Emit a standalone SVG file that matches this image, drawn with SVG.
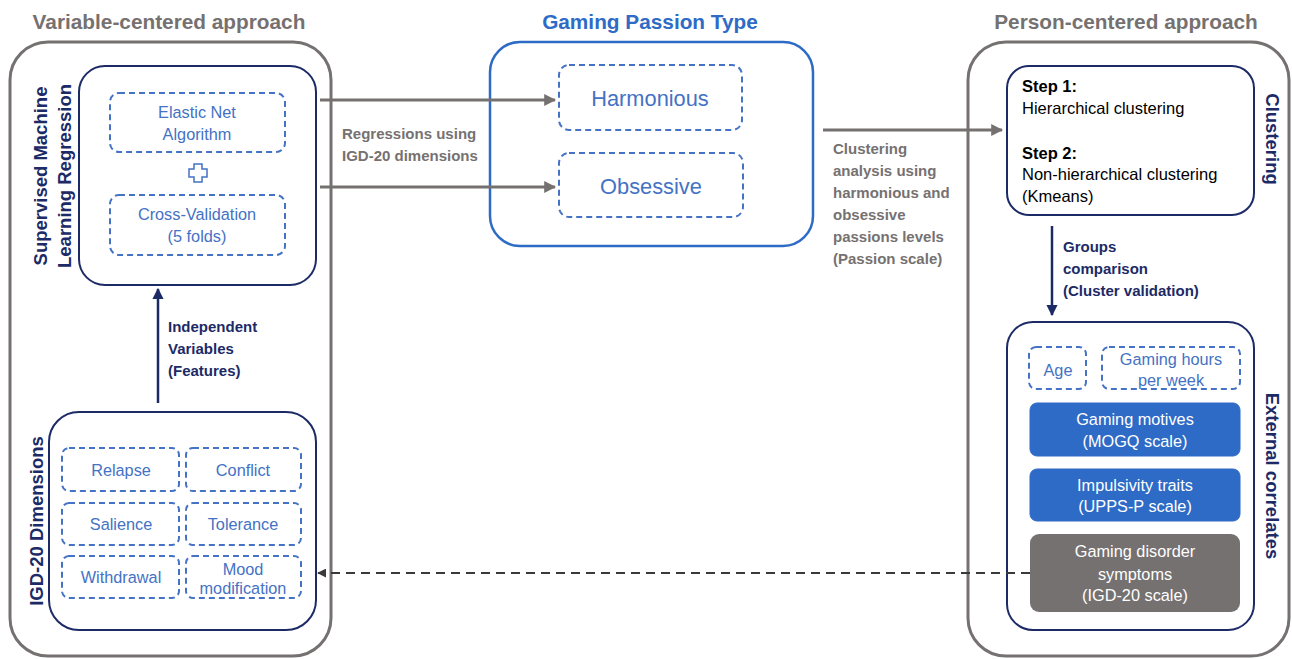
<svg xmlns="http://www.w3.org/2000/svg" width="1292" height="659" viewBox="0 0 1292 659">
<defs>
<style>
text{font-family:"Liberation Sans",Arial,sans-serif}
.title{font-size:20.8px;font-weight:bold;text-anchor:middle}
.gray{fill:#767171}
.navy{fill:#1c2a66}
.outer{fill:none;stroke:#767171;stroke-width:3}
.inner{fill:#fff;stroke:#1c2a66;stroke-width:2}
.dash{fill:#fff;stroke:#4472C4;stroke-width:2;stroke-dasharray:6 4}
.t15{font-size:16.3px;text-anchor:middle;fill:#4472C4}
.lbl{font-size:15px;font-weight:bold}
.vl{font-size:18.5px;font-weight:bold;fill:#1c2a66;text-anchor:middle}
.fill{fill:#2E6BC6;stroke:#2E6BC6}
.w{font-size:16.3px;text-anchor:middle;fill:#fff}
.blk{font-size:16.5px;fill:#000}
</style>
<marker id="ag" viewBox="0 0 10 10" refX="9" refY="5" markerWidth="4" markerHeight="4" orient="auto"><path d="M0,0 L10,5 L0,10 z" fill="#767171"/></marker>
<marker id="an" viewBox="0 0 10 10" refX="9" refY="5" markerWidth="4.5" markerHeight="4.5" orient="auto"><path d="M0,0 L10,5 L0,10 z" fill="#1c2a66"/></marker>
<marker id="ad" viewBox="0 0 10 10" refX="9" refY="5" markerWidth="4.5" markerHeight="4.5" orient="auto"><path d="M0,0 L10,5 L0,10 z" fill="#3a3a3a"/></marker>
</defs>

<g id="titles">
<text class="title gray" x="169" y="29">Variable-centered approach</text>
<text class="title" x="650" y="29" fill="#2E6BC6">Gaming Passion Type</text>
<text class="title gray" x="1126" y="29">Person-centered approach</text>
</g>

<g id="variable-centered">
<rect class="outer" x="10" y="42" width="321" height="614" rx="38"/>
</g>

<g id="person-centered">
<rect class="outer" x="968" y="42" width="321" height="614" rx="38"/>
</g>

<g id="supervised-ml">
<rect class="inner" x="79" y="66" width="237" height="219" rx="26"/>
<text class="vl" transform="translate(47,176) rotate(-90)">Supervised Machine</text>
<text class="vl" transform="translate(71,176) rotate(-90)">Learning Regression</text>
<rect class="dash" x="110" y="93" width="175" height="59" rx="9"/>
<text class="t15" x="197" y="118">Elastic Net</text>
<text class="t15" x="197" y="140">Algorithm</text>
<path d="M194,164 h8 v5 h5 v8 h-5 v5 h-8 v-5 h-5 v-8 h5 z" fill="#fff" stroke="#4472C4" stroke-width="1.5"/>
<rect class="dash" x="110" y="195" width="175" height="60" rx="9"/>
<text class="t15" x="197" y="220">Cross-Validation</text>
<text class="t15" x="197" y="242">(5 folds)</text>
</g>

<g id="igd20">
<rect class="inner" x="49" y="412" width="267" height="218" rx="30"/>
<text class="vl" transform="translate(43,521) rotate(-90)">IGD-20 Dimensions</text>
<rect class="dash" x="62" y="448" width="117" height="43" rx="7"/>
<text class="t15" x="121" y="476">Relapse</text>
<rect class="dash" x="186" y="448" width="115" height="43" rx="7"/>
<text class="t15" x="243" y="476">Conflict</text>
<rect class="dash" x="62" y="503" width="117" height="42" rx="7"/>
<text class="t15" x="121" y="530">Salience</text>
<rect class="dash" x="186" y="503" width="115" height="42" rx="7"/>
<text class="t15" x="243" y="530">Tolerance</text>
<rect class="dash" x="62" y="556" width="117" height="42" rx="7"/>
<text class="t15" x="121" y="583">Withdrawal</text>
<rect class="dash" x="186" y="556" width="115" height="42" rx="7"/>
<text class="t15" x="243" y="575">Mood</text>
<text class="t15" x="243" y="594">modification</text>
</g>

<g id="passion-type">
<rect x="490" y="42" width="323" height="204" rx="30" fill="#fff" stroke="#2E6BC6" stroke-width="2.5"/>
<rect class="dash" x="559" y="65" width="183" height="65" rx="10"/>
<text x="650" y="106" font-size="21.8" text-anchor="middle" fill="#4472C4">Harmonious</text>
<rect class="dash" x="559" y="153" width="184" height="64" rx="10"/>
<text x="651" y="194" font-size="21.8" text-anchor="middle" fill="#4472C4">Obsessive</text>
</g>

<g id="clustering">
<rect class="inner" x="1007" y="66" width="247" height="149" rx="22"/>
<text class="blk" x="1022" y="92" font-weight="bold">Step 1:</text>
<text class="blk" x="1022" y="114">Hierarchical clustering</text>
<text class="blk" x="1022" y="159" font-weight="bold">Step 2:</text>
<text class="blk" x="1022" y="180">Non-hierarchical clustering</text>
<text class="blk" x="1022" y="202">(Kmeans)</text>
<text class="vl" transform="translate(1266,139) rotate(90)">Clustering</text>
</g>

<g id="external-correlates">
<rect class="inner" x="1007" y="322" width="247" height="308" rx="26"/>
<text class="vl" transform="translate(1266,476) rotate(90)">External correlates</text>
<rect class="dash" x="1029" y="347" width="57" height="42" rx="7"/>
<text class="t15" x="1058" y="376">Age</text>
<rect class="dash" x="1102" y="347" width="138" height="42" rx="7"/>
<text class="t15" x="1171" y="365">Gaming hours</text>
<text class="t15" x="1171" y="386">per week</text>
<rect class="fill" x="1030" y="403" width="210" height="53" rx="7"/>
<text class="w" x="1135" y="425">Gaming motives</text>
<text class="w" x="1135" y="447">(MOGQ scale)</text>
<rect class="fill" x="1030" y="469" width="210" height="52" rx="7"/>
<text class="w" x="1135" y="491">Impulsivity traits</text>
<text class="w" x="1135" y="512">(UPPS-P scale)</text>
<rect x="1030" y="534" width="210" height="78" rx="9" fill="#767171"/>
<text class="w" x="1135" y="557">Gaming disorder</text>
<text class="w" x="1135" y="580">symptoms</text>
<text class="w" x="1135" y="601">(IGD-20 scale)</text>
</g>

<g id="connectors">
<line x1="320" y1="100" x2="555" y2="100" stroke="#767171" stroke-width="3" marker-end="url(#ag)"/>
<line x1="320" y1="187" x2="555" y2="187" stroke="#767171" stroke-width="3" marker-end="url(#ag)"/>
<text class="lbl gray" x="342" y="139">Regressions using</text>
<text class="lbl gray" x="342" y="161">IGD-20 dimensions</text>
<line x1="823" y1="130" x2="1002" y2="130" stroke="#767171" stroke-width="3" marker-end="url(#ag)"/>
<text class="lbl gray" x="833" y="154">Clustering</text>
<text class="lbl gray" x="833" y="176">analysis using</text>
<text class="lbl gray" x="833" y="198">harmonious and</text>
<text class="lbl gray" x="833" y="220">obsessive</text>
<text class="lbl gray" x="833" y="242">passions levels</text>
<text class="lbl gray" x="833" y="264">(Passion scale)</text>
<line x1="158" y1="403" x2="158" y2="289" stroke="#1c2a66" stroke-width="2.5" marker-end="url(#an)"/>
<text class="lbl navy" x="168" y="332">Independent</text>
<text class="lbl navy" x="168" y="354">Variables</text>
<text class="lbl navy" x="168" y="376">(Features)</text>
<line x1="1052" y1="226" x2="1052" y2="315" stroke="#1c2a66" stroke-width="2.5" marker-end="url(#an)"/>
<text class="lbl navy" x="1063" y="252">Groups</text>
<text class="lbl navy" x="1063" y="274">comparison</text>
<text class="lbl navy" x="1063" y="296">(Cluster validation)</text>
<line x1="1030" y1="573" x2="318" y2="573" stroke="#3a3a3a" stroke-width="2" stroke-dasharray="9 6" marker-end="url(#ad)"/>
</g>
</svg>
